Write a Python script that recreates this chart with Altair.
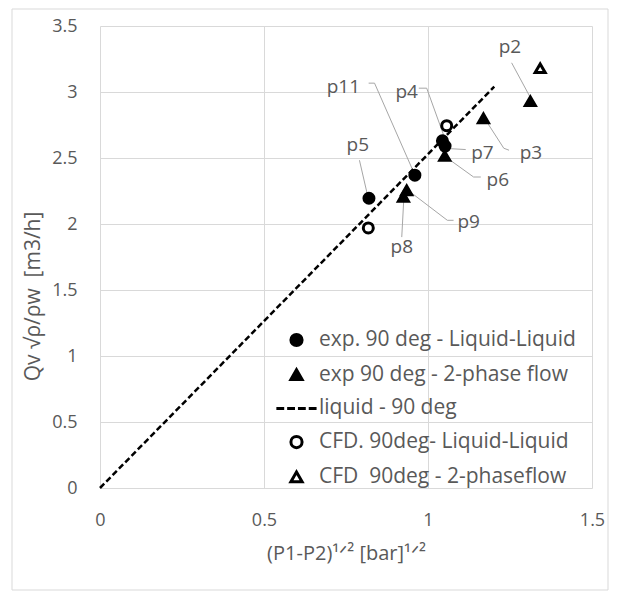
import altair as alt
import pandas as pd

FONT = "Open Sans"
GREY = "#595959"

# ---- series names (legend order) ----
S_EXP_LL = "exp. 90 deg - Liquid-Liquid"
S_EXP_2P = "exp 90 deg - 2-phase flow"
S_LINE = "liquid - 90 deg"
S_CFD_LL = "CFD. 90deg- Liquid-Liquid"
S_CFD_2P = "CFD \u00a090deg - 2-phaseflow"
series_names = [S_EXP_LL, S_EXP_2P, S_LINE, S_CFD_LL, S_CFD_2P]

# ---- measured points ----
pt_series = [S_EXP_LL, S_EXP_LL, S_EXP_LL, S_EXP_LL,
             S_EXP_2P, S_EXP_2P, S_EXP_2P, S_EXP_2P, S_EXP_2P,
             S_CFD_LL, S_CFD_LL,
             S_CFD_2P]
pt_x = [0.820, 0.960, 1.044, 1.052,
        0.925, 0.935, 1.051, 1.169, 1.312,
        0.818, 1.057,
        1.342]
pt_y = [2.195, 2.370, 2.630, 2.590,
        2.205, 2.255, 2.515, 2.800, 2.930,
        1.970, 2.745,
        3.180]

# ---- liquid line ----
line_x = [0.0, 1.202]
line_y = [0.0, 3.04]

# ---- point labels ----
lab_text = ["p2", "p11", "p4", "p7", "p3", "p6", "p5", "p9", "p8"]
lab_x = [1.250, 0.742, 0.935, 1.166, 1.314, 1.213, 0.786, 1.124, 0.920]
lab_y = [3.340, 3.039, 3.001, 2.538, 2.538, 2.331, 2.597, 2.015, 1.826]

# ---- leader lines ----
lead_label = ["p2", "p2",
              "p11", "p11", "p11",
              "p4", "p4", "p4",
              "p7", "p7",
              "p3", "p3", "p3",
              "p6", "p6", "p6",
              "p5", "p5",
              "p9", "p9", "p9",
              "p8", "p8"]
lead_x = [1.255, 1.311,
          0.819, 0.837, 0.956,
          0.972, 0.996, 1.051,
          1.059, 1.115,
          1.176, 1.231, 1.247,
          1.054, 1.139, 1.161,
          0.791, 0.815,
          0.935, 1.059, 1.078,
          0.926, 0.920]
lead_y = [3.221, 2.963,
          3.067, 3.067, 2.394,
          3.029, 3.029, 2.650,
          2.572, 2.564,
          2.786, 2.574, 2.559,
          2.508, 2.356, 2.356,
          2.483, 2.225,
          2.263, 2.028, 2.028,
          2.180, 1.901]

x_ticks = [0, 0.5, 1, 1.5]
y_ticks = [0, 0.5, 1, 1.5, 2, 2.5, 3, 3.5]

pts = pd.DataFrame({"series": pt_series, "x": pt_x, "y": pt_y})
line_df = pd.DataFrame({"x": line_x, "y": line_y})
labs = pd.DataFrame({"label": lab_text, "x": lab_x, "y": lab_y})
lead = pd.DataFrame({"label": lead_label, "x": lead_x, "y": lead_y,
                     "order": list(range(len(lead_x)))})

xs = alt.Scale(domain=[0, 1.5], nice=False)
ys = alt.Scale(domain=[0, 3.5], nice=False)

x_axis = alt.Axis(values=x_ticks, format="~g", labelFlush=False,
                  title="(P1-P2)\u00b9\u141f\u00b2 [bar]\u00b9\u141f\u00b2", titleFontSize=20,
                  grid=True, ticks=False, domain=False, labelPadding=23,
                  titleX=246, titleY=71, titleBaseline="alphabetic", titleAlign="center")
y_axis = alt.Axis(values=y_ticks, format="~g", labelFlush=False,
                  title="Qv \u221a\u03c1/\u03c1w \u00a0[m3/h]", titleFontSize=21,
                  grid=True, ticks=False, domain=False, labelPadding=23,
                  titleX=-67, titleY=270, titleAlign="center", titleBaseline="middle",
                  titleAngle=270)

dash_path = "M-3.6,0H-2.2M-1.67,0H-0.27M0.26,0H1.66M2.19,0H3.59"
legend = alt.Legend(title=None, orient="none", legendX=186, legendY=303.5,
                    labelFontSize=21, labelColor=GREY, labelFont=FONT,
                    symbolSize=125, symbolStrokeWidth=3, symbolStrokeColor="black",
                    symbolOpacity=1, labelOffset=12, rowPadding=10.7,
                    labelLimit=400, padding=0)

frame = alt.Chart(pd.DataFrame({"a": [0]})).mark_rect(
    filled=False, stroke="#d9d9d9", strokeWidth=1
).encode(x=alt.value(-88), x2=alt.value(508), y=alt.value(-17), y2=alt.value(564))

leaders = alt.Chart(lead).mark_line(color="#a6a6a6", strokeWidth=1).encode(
    x=alt.X("x:Q", scale=xs, axis=x_axis),
    y=alt.Y("y:Q", scale=ys, axis=y_axis),
    detail="label:N",
    order="order:Q",
)

liq = alt.Chart(line_df).mark_line(color="black", strokeWidth=2.5, strokeDash=[6, 3]).encode(
    x=alt.X("x:Q", scale=xs), y=alt.Y("y:Q", scale=ys)
)

points = alt.Chart(pts).mark_point(size=100, strokeWidth=3, opacity=1).encode(
    x=alt.X("x:Q", scale=xs),
    y=alt.Y("y:Q", scale=ys),
    shape=alt.Shape("series:N", scale=alt.Scale(domain=series_names,
                    range=["circle", "triangle-up", dash_path, "circle", "triangle-up"]),
                    legend=legend),
    fill=alt.Fill("series:N", scale=alt.Scale(domain=series_names,
                  range=["black", "black", "transparent", "white", "white"]),
                  legend=legend),
    stroke=alt.Stroke("series:N", scale=alt.Scale(domain=series_names,
                      range=["black", "black", "black", "black", "black"]),
                      legend=legend),
)

texts = alt.Chart(labs).mark_text(fontSize=19, font=FONT, color=GREY,
                                  align="center", baseline="middle").encode(
    x=alt.X("x:Q", scale=xs), y=alt.Y("y:Q", scale=ys), text="label:N"
)

chart = alt.layer(frame, leaders, liq, points, texts).properties(
    width=492, height=462,
    background="white",
    autosize=alt.AutoSizeParams(type="none"),
    padding={"left": 92, "top": 18, "right": 17, "bottom": 103},
).configure_view(stroke=None).configure_axis(
    gridColor="#d9d9d9", gridWidth=1, labelColor=GREY, labelFont=FONT, labelFontSize=18,
    titleColor=GREY, titleFont=FONT, titleFontWeight="normal",
)

chart.save("out.html", embed_options={"renderer": "svg", "actions": False})
